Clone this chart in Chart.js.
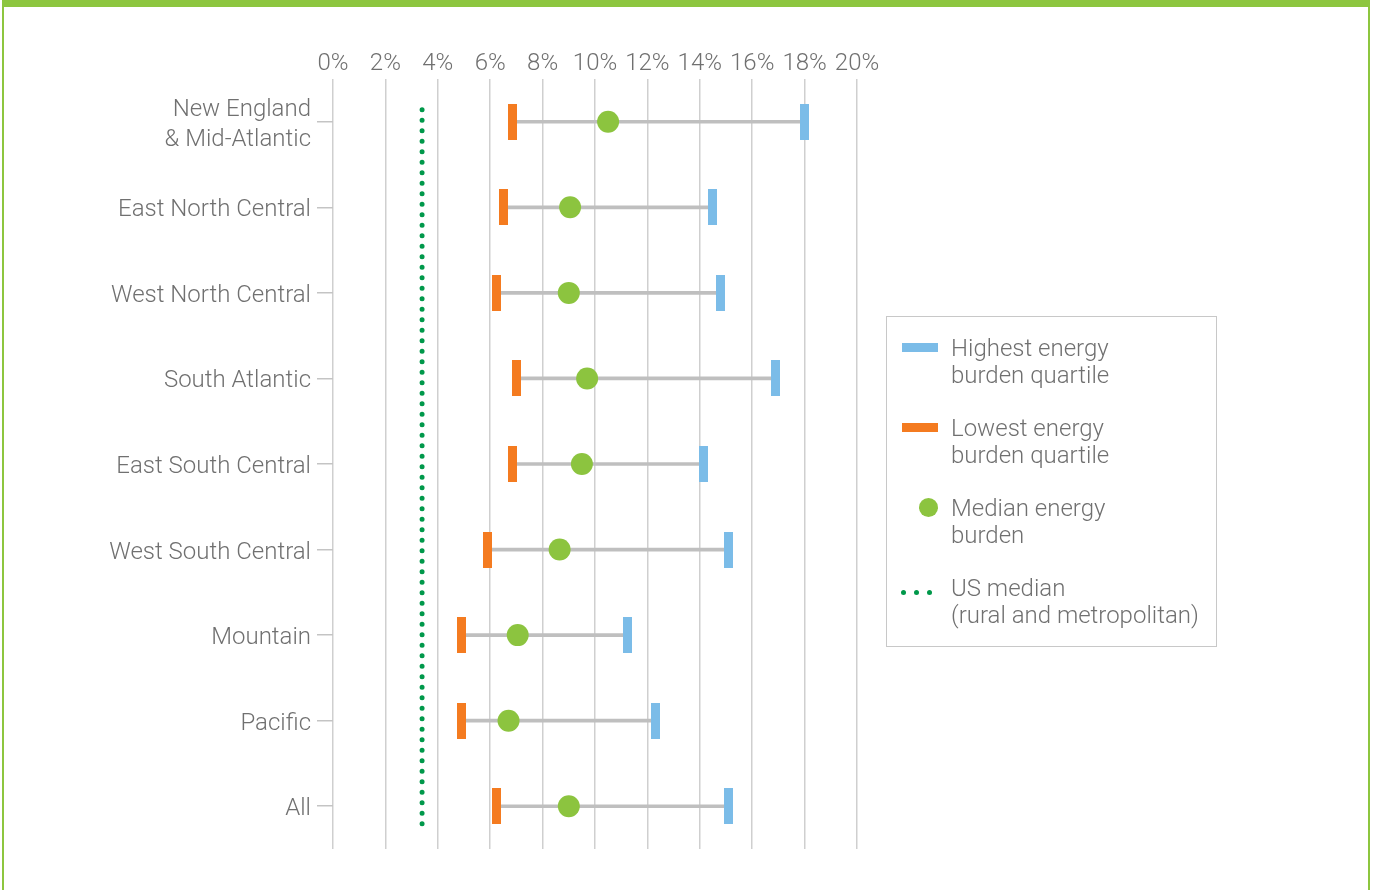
<!DOCTYPE html>
<html>
<head>
<meta charset="utf-8">
<script src="https://cdn.jsdelivr.net/npm/chart.js@4.4.1/dist/chart.umd.min.js"></script>
<style>
  html, body { margin: 0; padding: 0; background: #fff; }
  body { width: 1376px; height: 890px; position: relative; overflow: hidden; font-family: Roboto, "Open Sans", sans-serif; }
  #wrap { position: absolute; left: 0; top: 0; width: 1376px; height: 890px; }
  #frame { position: absolute; left: 2px; top: 0; width: 1368px; height: 890px; box-sizing: border-box;
           border-top: 7px solid #8dc63f; border-left: 2px solid #8dc63f; border-right: 2px solid #8dc63f; pointer-events: none; }
  #legend { position: absolute; left: 886px; top: 316px; width: 331px; height: 331px; box-sizing: border-box;
            border: 1px solid #c8c8c8; padding-top: 17px; }
  .item { position: relative; height: 54px; margin-bottom: 26px; }
  .item span { position: absolute; left: 64px; top: 1px; font-size: 24px; font-weight: 300; line-height: 27px; color: #707070; white-space: nowrap; }
  .sw { position: absolute; }
</style>
</head>
<body>
<div id="wrap"><canvas id="chart" width="1376" height="890"></canvas></div>
<div id="legend"></div>
<div id="frame"></div>
<script>
// Regions and energy burden values (% of income)
const regions = [['New England', '& Mid-Atlantic'], 'East North Central', 'West North Central', 'South Atlantic',
  'East South Central', 'West South Central', 'Mountain', 'Pacific', 'All'];
const lowestQuartile = [6.85, 6.5, 6.25, 7.0, 6.85, 5.9, 4.9, 4.9, 6.25];
const medianBurden = [10.5, 9.05, 9.0, 9.7, 9.5, 8.65, 7.05, 6.7, 9.0];
const highestQuartile = [18.0, 14.5, 14.8, 16.9, 14.15, 15.1, 11.25, 12.3, 15.1];
const usMedian = 3.4;

const BLUE = '#7bbce8';
const ORANGE = '#f47b20';
const GREEN = '#8cc43f';
const DOT = '#00984a';
const TEXT = '#707070';

// little bar shaped markers for the quartile ends
function barMarker(color) {
  const c = document.createElement('canvas');
  c.width = 9;
  c.height = 36;
  const g = c.getContext('2d');
  g.fillStyle = color;
  g.fillRect(0, 0, 9, 36);
  return c;
}

// dotted vertical line for the US median
const usMedianLine = {
  id: 'usMedianLine',
  beforeDatasetsDraw(chart) {
    const ctx = chart.ctx;
    const xs = chart.scales.x, ys = chart.scales.y;
    const band = ys.getPixelForValue(1) - ys.getPixelForValue(0);
    const x = xs.getPixelForValue(usMedian);
    const y0 = ys.getPixelForValue(0) - band * 0.14;
    const y1 = ys.getPixelForValue(regions.length - 1) + band * 0.26;
    ctx.save();
    ctx.strokeStyle = DOT;
    ctx.lineWidth = 5;
    ctx.lineCap = 'round';
    ctx.setLineDash([0, 10.5]);
    ctx.beginPath();
    ctx.moveTo(x, y0);
    ctx.lineTo(x, y1);
    ctx.stroke();
    ctx.restore();
  }
};

const font = { family: 'Roboto, "Open Sans", sans-serif', size: 24, weight: 300, lineHeight: 1.25 };

new Chart(document.getElementById('chart'), {
  type: 'bar',
  data: {
    labels: regions,
    datasets: [
      {
        type: 'line', label: 'Median energy burden', data: medianBurden, indexAxis: 'y', order: 1,
        showLine: false, pointStyle: 'circle', pointRadius: 11, pointBackgroundColor: GREEN, pointBorderWidth: 0
      },
      {
        type: 'line', label: 'Highest energy burden quartile', data: highestQuartile, indexAxis: 'y', order: 2,
        showLine: false, pointStyle: barMarker(BLUE)
      },
      {
        type: 'line', label: 'Lowest energy burden quartile', data: lowestQuartile, indexAxis: 'y', order: 3,
        showLine: false, pointStyle: barMarker(ORANGE)
      },
      {
        type: 'bar', label: 'range', data: lowestQuartile.map((v, i) => [v, highestQuartile[i]]), order: 4,
        backgroundColor: '#bfbfbf', barThickness: 3, borderSkipped: false
      }
    ]
  },
  options: {
    indexAxis: 'y',
    responsive: false,
    animation: false,
    devicePixelRatio: 1,
    layout: { padding: { left: 100, right: 519, top: 29, bottom: 41 } },
    plugins: { legend: { display: false }, tooltip: { enabled: false } },
    scales: {
      x: {
        type: 'linear', position: 'top', min: 0, max: 20,
        afterFit(s) { s.height = 50; },
        border: { display: false },
        grid: { color: '#cfcfcf', lineWidth: 1.5, drawTicks: false },
        ticks: { stepSize: 2, autoSkip: false, maxRotation: 0, padding: 0, color: TEXT, font: font,
                 callback: v => v + '%' }
      },
      y: {
        type: 'category', offset: true,
        afterFit(s) { s.width = 233; },
        border: { display: false },
        grid: { drawOnChartArea: false, drawTicks: true, tickLength: 16, offset: false, color: '#c4c4c4', lineWidth: 1.5 },
        ticks: { padding: 6, labelOffset: 3, color: TEXT, font: font }
      }
    }
  },
  plugins: [usMedianLine]
});

// legend
const legendItems = [
  { text: ['Highest energy', 'burden quartile'], sw: `<div class="sw" style="left:15px;top:9px;width:36px;height:9px;background:${BLUE}"></div>` },
  { text: ['Lowest energy', 'burden quartile'], sw: `<div class="sw" style="left:15px;top:9px;width:36px;height:9px;background:${ORANGE}"></div>` },
  { text: ['Median energy', 'burden'], sw: `<div class="sw" style="left:32px;top:4px;width:19px;height:19px;border-radius:50%;background:${GREEN}"></div>` },
  { text: ['US median', '(rural and metropolitan)'], sw: [0, 13, 26].map(d =>
      `<div class="sw" style="left:${14 + d}px;top:16px;width:5px;height:5px;border-radius:50%;background:${DOT}"></div>`).join('') }
];
document.getElementById('legend').innerHTML = legendItems.map(it =>
  `<div class="item">${it.sw}<span>${it.text.join('<br>')}</span></div>`).join('');
</script>
</body>
</html>
